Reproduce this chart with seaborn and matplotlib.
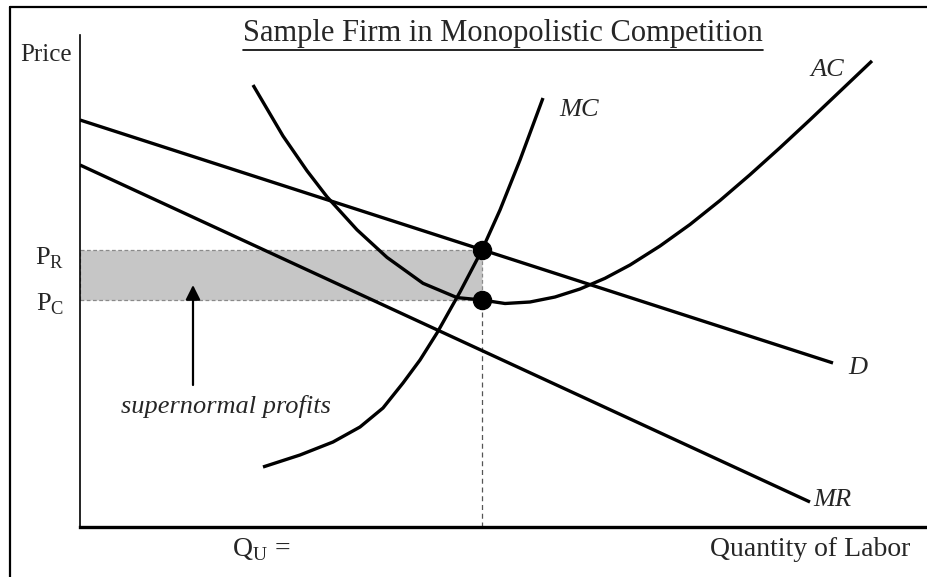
import numpy as np
import pandas as pd
import matplotlib
matplotlib.use('Agg')
import matplotlib.pyplot as plt
import seaborn as sns
from matplotlib.lines import Line2D
from matplotlib.patches import Rectangle

# ── Data (quantity, price) ─────────────────────────────────────────────
D_Q = [0, 753]
D_P = [407, 164]

MR_Q = [0, 730]
MR_P = [362, 25]

MC_Q = [183, 220, 253, 280, 303, 323, 340, 357, 380, 402, 420, 440, 463]
MC_P = [60, 72, 85, 100, 119, 144, 167, 194, 235, 277, 317, 367, 429]

AC_Q = [173, 203, 227, 247, 277, 307, 343, 377, 402, 425, 450, 475, 500,
        525, 550, 580, 610, 640, 670, 700, 730, 760, 792]
AC_P = [442, 391, 356.2, 330.2, 297.2, 269.6, 243.7, 229.4, 227, 223.5, 225,
        230, 238, 248.7, 262, 281, 302.5, 326.5, 352.3, 379.3, 407.2, 435.7,
        466.1]

Q_U = 402
P_R = 277
P_C = 227

# ── Setup ──────────────────────────────────────────────────────────────
sns.set_theme(style='white')
plt.rcParams['font.family'] = ['Liberation Serif', 'DejaVu Serif']
plt.rcParams['mathtext.fontset'] = 'custom'
plt.rcParams['mathtext.rm'] = 'Liberation Serif'

W, H = 928, 577
fig = plt.figure(figsize=(W / 100, H / 100), dpi=100)
ax = fig.add_axes([80 / W, 50 / H, 845 / W, 492 / H])
ax.set_xlim(0, 845)
ax.set_ylim(0, 492)
ax.set_xticks([])
ax.set_yticks([])
for s in ['top', 'right']:
    ax.spines[s].set_visible(False)
ax.spines['left'].set_linewidth(1.2)
ax.spines['bottom'].set_linewidth(2.4)
for s in ['left', 'bottom']:
    ax.spines[s].set_color('black')

# outer frame (top + left only)
fig.add_artist(Line2D([10 / W, 1], [1 - 7 / H, 1 - 7 / H],
                      transform=fig.transFigure, color='black', lw=1.6))
fig.add_artist(Line2D([10 / W, 10 / W], [0, 1 - 7 / H],
                      transform=fig.transFigure, color='black', lw=1.6))

# ── Profit rectangle ───────────────────────────────────────────────────
ax.add_patch(Rectangle((0, P_C), Q_U, P_R - P_C, facecolor='#c6c6c6',
                       edgecolor='#8a8a8a', lw=0.9, ls=(0, (3, 2)), zorder=1))
ax.plot([Q_U, Q_U], [0, P_C], color='#555555', lw=0.9, ls=(0, (4, 3)), zorder=1)

# ── Curves ─────────────────────────────────────────────────────────────
curves = pd.concat([
    pd.DataFrame({'q': D_Q, 'p': D_P, 'curve': 'D'}),
    pd.DataFrame({'q': MR_Q, 'p': MR_P, 'curve': 'MR'}),
    pd.DataFrame({'q': MC_Q, 'p': MC_P, 'curve': 'MC'}),
    pd.DataFrame({'q': AC_Q, 'p': AC_P, 'curve': 'AC'}),
])
for name, grp in curves.groupby('curve'):
    sns.lineplot(data=grp, x='q', y='p', sort=False, ax=ax, color='black',
                 lw=2.4, solid_capstyle='butt', solid_joinstyle='round',
                 zorder=3)
ax.set_xlabel('')
ax.set_ylabel('')

# equilibrium dots
ax.plot([Q_U, Q_U], [P_R, P_C], 'o', color='black', ms=13, zorder=4)

# arrow + label
ax.annotate('', xy=(113, 242), xytext=(113, 142),
            arrowprops=dict(arrowstyle='-|>', color='black', lw=1.6,
                            mutation_scale=22, shrinkA=0, shrinkB=0))
ax.text(146, 121, 'supernormal profits', style='italic', fontsize=19,
        ha='center', va='center')

# curve labels
ax.text(499, 417, 'MC', style='italic', fontsize=19, ha='center', va='center')
ax.text(747, 457, 'AC', style='italic', fontsize=19, ha='center', va='center')
ax.text(778, 159, 'D', style='italic', fontsize=19, ha='center', va='center')
ax.text(752, 27, 'MR', style='italic', fontsize=19, ha='center', va='center')

# axis labels
ax.text(-34, 472, 'Price', fontsize=18, ha='center', va='center', clip_on=False)
ax.text(-16, P_R - 8, r'P$_\mathregular{R}$', fontsize=19, ha='right',
        va='center', clip_on=False)
ax.text(-16, P_C - 4, r'P$_\mathregular{C}$', fontsize=19, ha='right',
        va='center', clip_on=False)
ax.text(181, -23, r'Q$_\mathregular{U}$ =', fontsize=20, ha='center',
        va='center', clip_on=False)
ax.text(830, -23, 'Quantity of Labor', fontsize=20, ha='right', va='center',
        clip_on=False)

# title with underline
title = fig.text(503 / W, 1 - 33 / H, 'Sample Firm in Monopolistic Competition',
                 fontsize=22, ha='center', va='center')
fig.canvas.draw()
bb = title.get_window_extent().transformed(fig.transFigure.inverted())
uy = 1 - 50 / H
fig.add_artist(Line2D([bb.x0, bb.x1], [uy, uy], transform=fig.transFigure,
                      color='black', lw=1.2))

fig.savefig('out.png', dpi=100)
